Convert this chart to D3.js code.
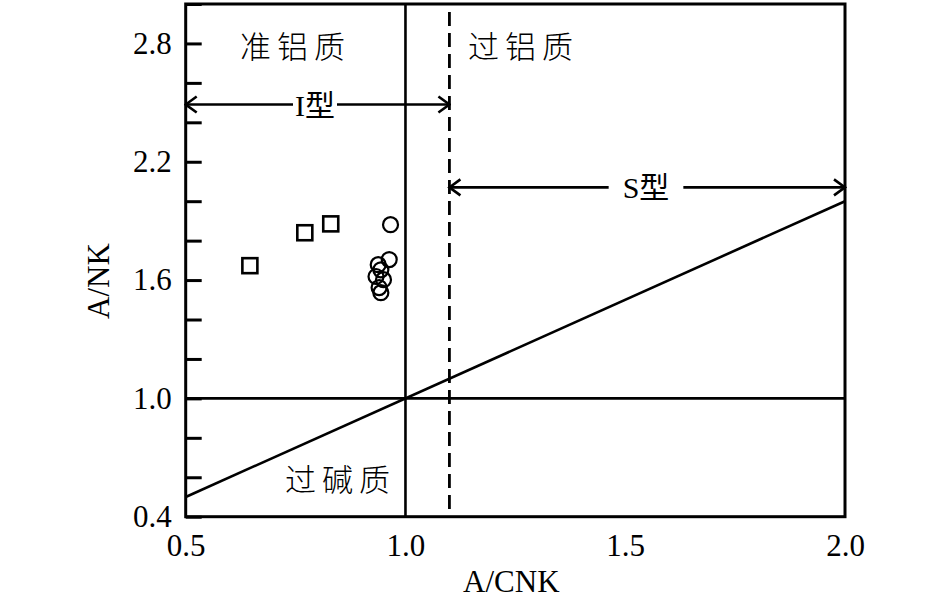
<!DOCTYPE html>
<html>
<head>
<meta charset="utf-8">
<script src="https://cdn.jsdelivr.net/npm/d3@7"></script>
<style>
  html, body { margin: 0; padding: 0; background: #fff; }
  svg text { fill: #000; }
</style>
</head>
<body>
<div id="chart"></div>
<script>
// data
const squareX = [0.646, 0.771, 0.830];
const squareY = [1.673, 1.840, 1.885];

const circleX = [0.966, 0.963, 0.938, 0.944, 0.933, 0.950, 0.940, 0.944];
const circleY = [1.881, 1.704, 1.678, 1.652, 1.618, 1.602, 1.562, 1.536];

const yTicks = [0.4, 0.6, 0.8, 1.0, 1.2, 1.4, 1.6, 1.8, 2.0, 2.2, 2.4, 2.6, 2.8, 3.0];
const yLabels = [0.4, 1.0, 1.6, 2.2, 2.8];
const xLabels = [0.5, 1.0, 1.5, 2.0];

// boundary lines
const metaluminousLimit = 1.0;   // A/CNK = 1
const peraluminousLimit = 1.1;   // I/S boundary (dashed)
const peralkalineLimit = 1.0;    // A/NK = 1

const width = 945, height = 601;
const m = { top: 4, right: 100, bottom: 84.3, left: 185.7 };

const svg = d3.select("#chart").append("svg")
  .attr("width", width)
  .attr("height", height)
  .attr("viewBox", [0, 0, width, height]);

const x = d3.scaleLinear().domain([0.5, 2.0]).range([m.left, width - m.right]);
const y = d3.scaleLinear().domain([0.4, 3.0]).range([height - m.bottom, m.top]);

const serif = "'Liberation Serif', 'Times New Roman', serif";
const cjk = "'Liberation Serif', 'Noto Sans CJK SC', serif";

// arrow head
svg.append("defs").append("marker")
  .attr("id", "arr")
  .attr("viewBox", "-14 -10 16 20")
  .attr("refX", 0).attr("refY", 0)
  .attr("markerWidth", 16).attr("markerHeight", 20)
  .attr("markerUnits", "userSpaceOnUse")
  .attr("orient", "auto-start-reverse")
  .append("path")
  .attr("d", "M-11,-8L0,0L-11,8")
  .attr("fill", "none")
  .attr("stroke", "#000")
  .attr("stroke-width", 2.6);

// y axis, ticks pointing inward
const yAxis = svg.append("g")
  .attr("transform", `translate(${m.left},0)`)
  .call(d3.axisLeft(y).tickValues(yTicks)
    .tickSize(-16).tickPadding(14)
    .tickFormat(d => yLabels.some(v => Math.abs(v - d) < 1e-6) ? d3.format(".1f")(d) : ""));
yAxis.select(".domain").remove();
yAxis.selectAll(".tick line").attr("stroke", "#000").attr("stroke-width", 3);
yAxis.selectAll(".tick text")
  .attr("font-family", serif).attr("font-size", 31).attr("fill", "#000");

// x axis, labels only
const xAxis = svg.append("g")
  .attr("transform", `translate(0,${height - m.bottom})`)
  .call(d3.axisBottom(x).tickValues(xLabels).tickSize(0).tickPadding(17)
    .tickFormat(d3.format(".1f")));
xAxis.select(".domain").remove();
xAxis.selectAll(".tick text")
  .attr("font-family", serif).attr("font-size", 31).attr("fill", "#000");

// reference lines
const g = svg.append("g").attr("stroke", "#000").attr("fill", "none");

g.append("line")
  .attr("x1", x(metaluminousLimit)).attr("x2", x(metaluminousLimit))
  .attr("y1", y(3.0)).attr("y2", y(0.4))
  .attr("stroke-width", 2.6);

g.append("line")
  .attr("x1", x(peraluminousLimit)).attr("x2", x(peraluminousLimit))
  .attr("y1", y(2.96)).attr("y2", y(0.4))
  .attr("stroke-width", 2.8)
  .attr("stroke-dasharray", "14,7");

g.append("line")
  .attr("x1", x(0.5)).attr("x2", x(2.0))
  .attr("y1", y(peralkalineLimit)).attr("y2", y(peralkalineLimit))
  .attr("stroke-width", 2.6);

// A/NK = A/CNK diagonal
g.append("line")
  .attr("x1", x(0.5)).attr("y1", y(0.5))
  .attr("x2", x(2.0)).attr("y2", y(2.0))
  .attr("stroke-width", 2.6);

// frame
svg.append("rect")
  .attr("x", m.left).attr("y", m.top)
  .attr("width", width - m.left - m.right)
  .attr("height", height - m.top - m.bottom)
  .attr("fill", "none").attr("stroke", "#000").attr("stroke-width", 3);

// range arrows with gaps for labels
function rangeArrow(x0, x1, yv, label, gap, cx) {
  const tx = svg.append("text")
    .attr("x", cx).attr("y", y(yv) + 11)
    .attr("text-anchor", "middle")
    .attr("font-family", cjk).attr("font-size", 30)
    .text(label);
  const bb = tx.node().getBBox();
  svg.append("line")
    .attr("x1", x(x0)).attr("x2", bb.x - gap)
    .attr("y1", y(yv)).attr("y2", y(yv))
    .attr("stroke", "#000").attr("stroke-width", 2.6)
    .attr("marker-start", "url(#arr)");
  svg.append("line")
    .attr("x1", bb.x + bb.width + gap).attr("x2", x(x1))
    .attr("y1", y(yv)).attr("y2", y(yv))
    .attr("stroke", "#000").attr("stroke-width", 2.6)
    .attr("marker-end", "url(#arr)");
}
rangeArrow(0.5, 1.1, 2.49, "I型", 2, 315);
rangeArrow(1.1, 2.0, 2.07, "S型", 14, 646);

// region labels
const regionStyle = sel => sel
  .attr("font-family", "'Noto Sans CJK SC', sans-serif")
  .attr("font-size", 31).attr("font-weight", 300)
  .attr("letter-spacing", 6);
svg.append("text").attr("x", 240).attr("y", 58).text("准铝质").call(regionStyle);
svg.append("text").attr("x", 468).attr("y", 58).text("过铝质").call(regionStyle);
svg.append("text").attr("x", 285).attr("y", 491).text("过碱质").call(regionStyle);

// samples
svg.append("g").selectAll("rect")
  .data(squareX.map((v, i) => [v, squareY[i]]))
  .join("rect")
  .attr("x", d => x(d[0]) - 7.5).attr("y", d => y(d[1]) - 7.5)
  .attr("width", 15).attr("height", 15)
  .attr("fill", "none").attr("stroke", "#000").attr("stroke-width", 2.6);

svg.append("g").selectAll("circle")
  .data(circleX.map((v, i) => [v, circleY[i]]))
  .join("circle")
  .attr("cx", d => x(d[0])).attr("cy", d => y(d[1]))
  .attr("r", 7.5)
  .attr("fill", "none").attr("stroke", "#000").attr("stroke-width", 2.2);

// axis titles
svg.append("text")
  .attr("x", (m.left + width - m.right) / 2 - 4).attr("y", 592)
  .attr("text-anchor", "middle")
  .attr("font-family", serif).attr("font-size", 31)
  .text("A/CNK");

svg.append("text")
  .attr("transform", `translate(109,281) rotate(-90)`)
  .attr("text-anchor", "middle")
  .attr("font-family", serif).attr("font-size", 31)
  .text("A/NK");
</script>
</body>
</html>
